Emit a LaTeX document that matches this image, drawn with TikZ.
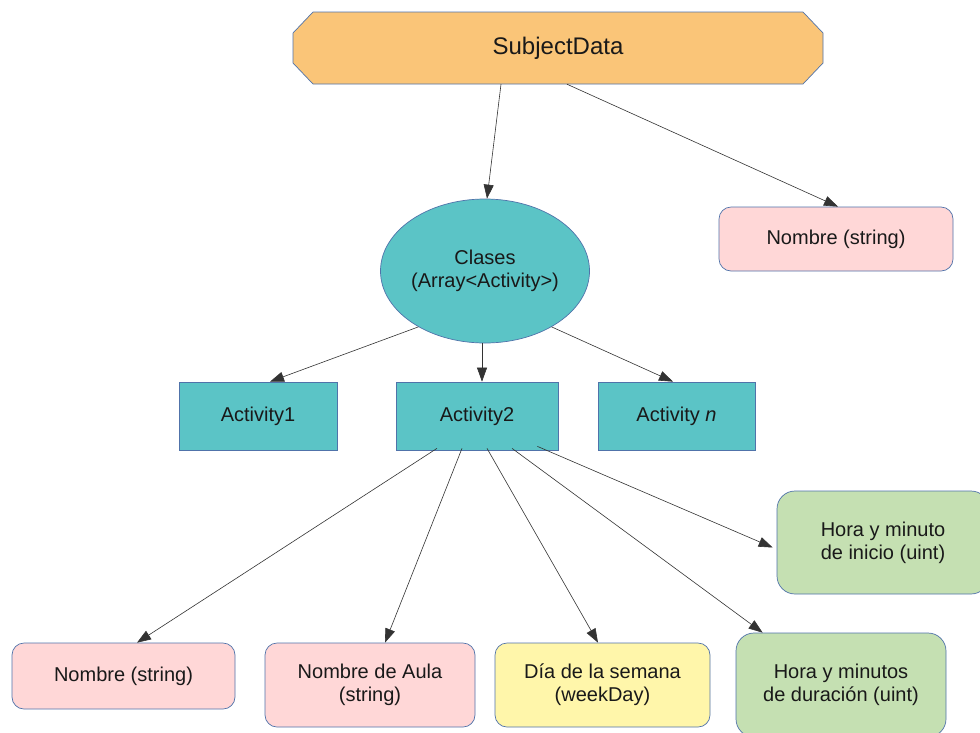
\documentclass[tikz,border=0pt]{standalone}
\usepackage{fontspec}
\setmainfont{Liberation Sans}
\usetikzlibrary{arrows.meta,shapes.geometric}

\definecolor{orangefill}{RGB}{250,197,120}
\definecolor{tealfill}{RGB}{91,196,198}
\definecolor{pinkfill}{RGB}{255,215,215}
\definecolor{yellowfill}{RGB}{255,246,170}
\definecolor{greenfill}{RGB}{197,224,178}
\definecolor{edgeblue}{RGB}{80,115,170}

\tikzset{
  base/.style={draw=edgeblue, line width=0.7pt, align=center, inner sep=0pt,
    font=\fontsize{20}{23}\selectfont, text=black!90},
  octshape/.style={draw=edgeblue, line width=0.7pt, fill=orangefill},
  octlabel/.style={align=center, inner sep=0pt, minimum width=530pt, minimum height=72pt,
    font=\fontsize{24}{28}\selectfont, text=black!90},
  ellbox/.style={base, fill=tealfill, ellipse, minimum width=204pt, minimum height=144pt},
  actbox/.style={base, fill=tealfill, rectangle, minimum height=68pt},
  pinkbox/.style={base, fill=pinkfill, rounded corners=12pt},
  yellowbox/.style={base, fill=yellowfill, rounded corners=12pt},
  greenbox/.style={base, fill=greenfill, rounded corners=18pt},
  link/.style={draw=black!80, line width=0.6pt,
    -{Triangle[length=14pt, width=10pt]}}
}

\begin{document}
\begin{tikzpicture}[x=1pt, y=-1pt]
  \clip (0,0) rectangle (980,732);
  \fill[white] (0,0) rectangle (980,732);

  % top level record: an octagon with cut corners
  \draw[octshape] (313,12) -- (803,12) -- (823,33) -- (823,63) -- (803,84)
    -- (313,84) -- (293,63) -- (293,33) -- cycle;
  \node[octlabel] (subj) at (558,48) {SubjectData};

  % fields of the record
  \node[ellbox] (clases) at (485,271) {Clases\\(Array<Activity>)};
  \node[pinkbox, minimum width=234pt, minimum height=64pt] (nombreTop) at (836,239) {Nombre (string)};

  % array elements
  \node[actbox, minimum width=158pt] (act1) at (258,416) {Activity1};
  \node[actbox, minimum width=162pt] (act2) at (477,416) {Activity2};
  \node[actbox, minimum width=157pt] (actn) at (676.5,416) {Activity \textit{n}};

  % fields of one activity
  \node[pinkbox, minimum width=223pt, minimum height=66pt] (nombreBot) at (123.5,676) {Nombre (string)};
  \node[pinkbox, minimum width=210pt, minimum height=84pt] (aula) at (370,685) {Nombre de Aula\\(string)};
  \node[yellowbox, minimum width=215pt, minimum height=84pt] (dia) at (602.5,685) {Día de la semana\\(weekDay)};
  \node[greenbox, minimum width=210pt, minimum height=104pt] (duracion) at (841,685) {Hora y minutos\\de duración (uint)};
  \node[greenbox, minimum width=212pt, minimum height=103pt] (inicio) at (883,542.5) {Hora y minuto\\de inicio (uint)};

  % connectors
  \draw[link] ([xshift=-57pt]subj.south) -- ([xshift=2pt]clases.north);
  \draw[link] ([xshift=9pt]subj.south) -- ([xshift=2pt]nombreTop.north);

  \draw[link] (clases.-140) -- ([xshift=12pt]act1.north);
  \draw[link] ([xshift=-3pt]clases.south) -- ([xshift=5pt]act2.north);
  \draw[link] (clases.-40) -- ([xshift=-3.5pt]actn.north);

  \draw[link] ([xshift=-40pt,yshift=2pt]act2.south) -- ([xshift=13.5pt]nombreBot.north);
  \draw[link] ([xshift=-15pt,yshift=2pt]act2.south) -- ([xshift=15pt]aula.north);
  \draw[link] ([xshift=10pt,yshift=2pt]act2.south) -- ([xshift=-4.5pt]dia.north);
  \draw[link] ([xshift=35pt,yshift=2pt]act2.south) -- ([xshift=27pt]duracion.north west);
  \draw[link] ([xshift=-21pt,yshift=4pt]act2.south east) -- ([xshift=-4pt,yshift=-5pt]inicio.west);
\end{tikzpicture}
\end{document}
